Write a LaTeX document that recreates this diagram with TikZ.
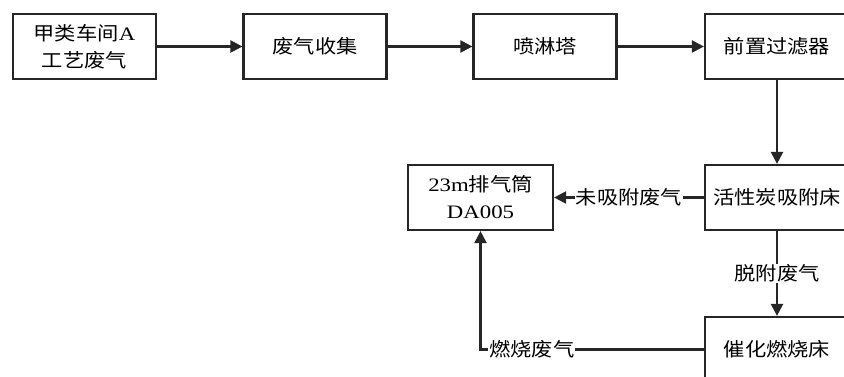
\documentclass[tikz,border=0pt]{standalone}
\usepackage{fontspec}
\setmainfont{Liberation Serif}[FakeStretch=1.2]
\newfontfamily\cjk{Noto Sans CJK SC}[FakeStretch=1.12]
\usetikzlibrary{arrows.meta}
\begin{document}
\begin{tikzpicture}[x=1pt,y=-1pt,
  box/.style={draw=black!85,line width=2.2pt,minimum width=143pt,minimum height=65pt,inner sep=0pt,align=center,font=\fontsize{19}{27}\selectfont},
  conn/.style={draw=black!85,line width=2.2pt,-{Triangle[length=12pt,width=12pt]}},
  lbl/.style={fill=white,inner sep=1pt,font=\fontsize{19}{22}\selectfont\cjk}]
\useasboundingbox (0,0) rectangle (844,377);
\node[box] (b1) at (84.5,46.5) {{\cjk 甲类车间}A\\{\cjk 工艺废气}};
\node[box] (b2) at (315,46.5) {\cjk 废气收集};
\node[box] (b3) at (545,46.5) {\cjk 喷淋塔};
\node[box,minimum width=144pt] (b4) at (777,46.5) {\cjk 前置过滤器};
\node[box,minimum width=145pt] (st) at (480.5,197.5) {23m{\cjk 排气筒}\\DA005};
\node[box,minimum width=144pt] (b5) at (777,197.5) {\cjk 活性炭吸附床};
\node[box,minimum width=144pt] (b6) at (777,349.5) {\cjk 催化燃烧床};
\draw[conn] (b1) -- (b2);
\draw[conn] (b2) -- (b3);
\draw[conn] (b3) -- (b4);
\draw[conn] (b4) -- (b5);
\draw[conn] (b5) -- node[lbl] {未吸附废气} (st);
\draw[conn] (b5) -- node[lbl] {脱附废气} (b6);
\draw[conn] (b6.west) -| node[lbl,pos=0.385] {燃烧废气} (st.south);
\end{tikzpicture}
\end{document}
